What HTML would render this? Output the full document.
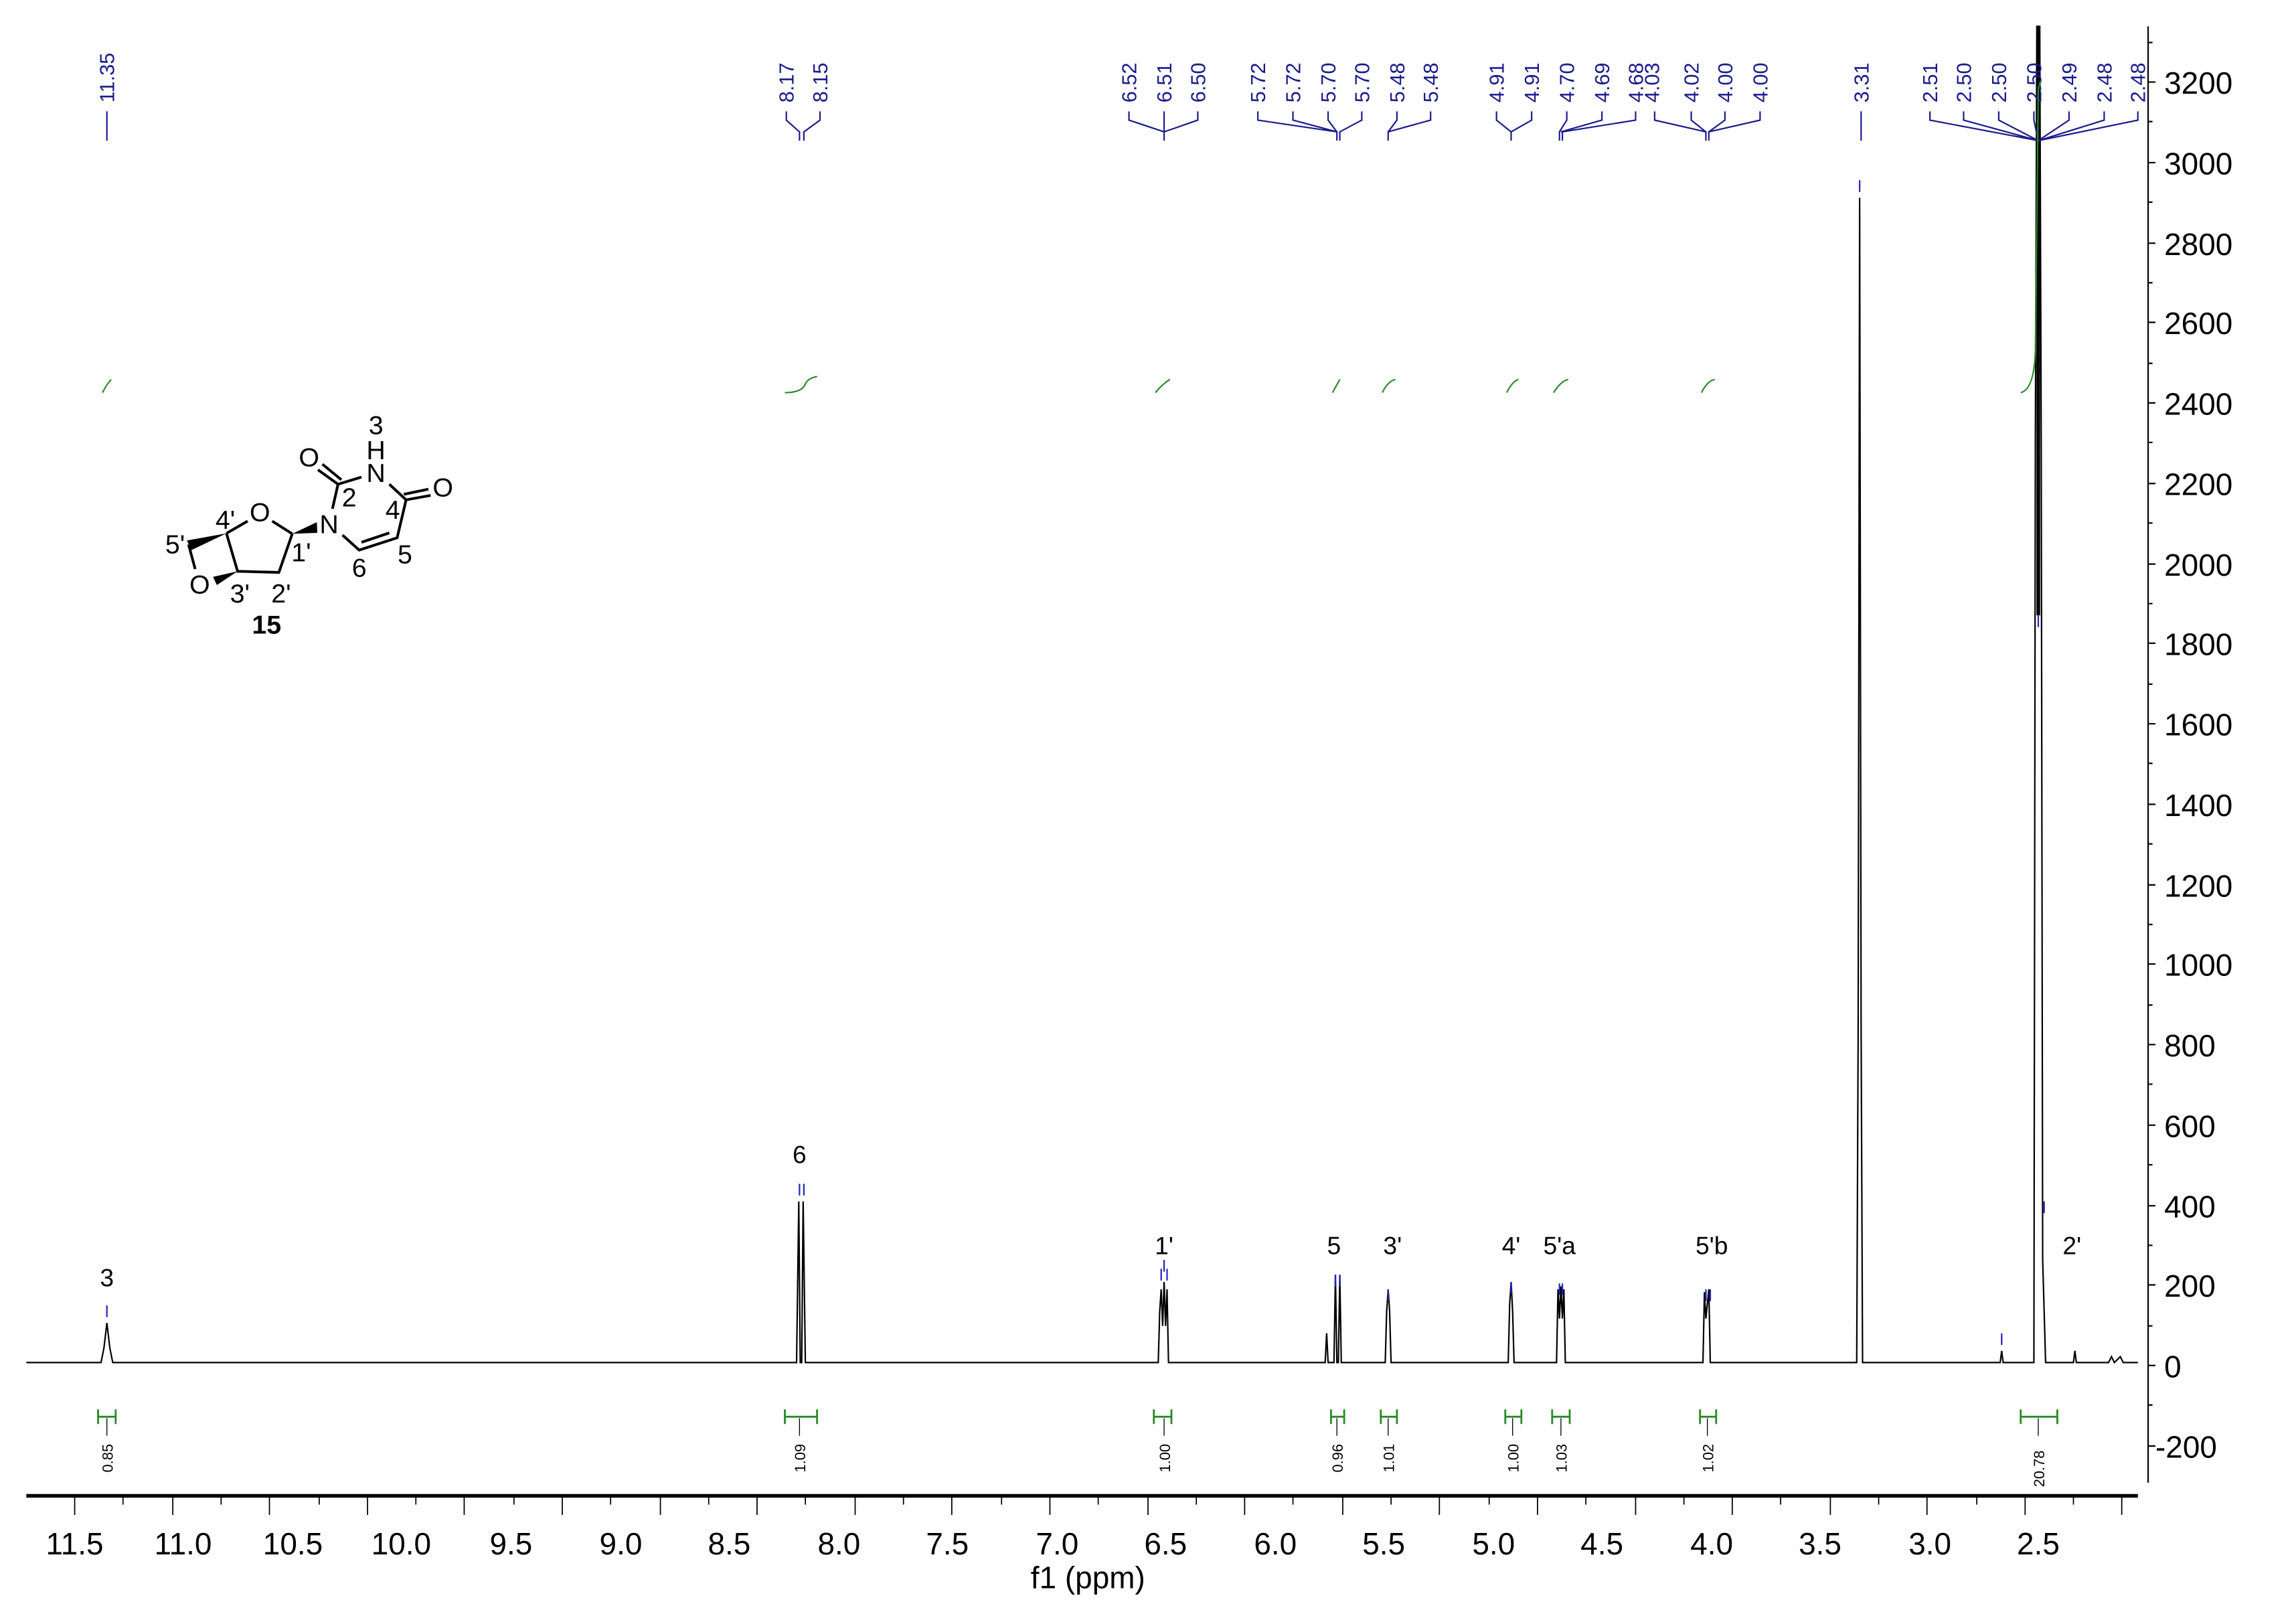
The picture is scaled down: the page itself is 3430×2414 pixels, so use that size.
<!DOCTYPE html>
<html><head><meta charset="utf-8"><style>
html,body{margin:0;padding:0;background:#fff;}
svg{display:block;}
text{font-family:"Liberation Sans","DejaVu Sans",sans-serif;}
</style></head><body>
<svg width="3430" height="2414" viewBox="0 0 1568 1103" preserveAspectRatio="none" xmlns="http://www.w3.org/2000/svg">
<rect width="1568" height="1103" fill="#fff"/>
<!-- x axis -->
<line x1="18" y1="1021" x2="1460" y2="1021" stroke="#000" stroke-width="2.5"/>
<g stroke="#000" stroke-width="0.8">
<path d="M51 1021v13M84 1021v6M118 1021v13M151 1021v6M184 1021v13M218 1021v6M251 1021v13M284 1021v6M317 1021v13M351 1021v6M384 1021v13M417 1021v6M451 1021v13M484 1021v6M517 1021v13M550 1021v6M584 1021v13M617 1021v6M650 1021v13M684 1021v6M717 1021v13M750 1021v6M784 1021v13M817 1021v6M850 1021v13M883 1021v6M917 1021v13M950 1021v6M983 1021v13M1017 1021v6M1050 1021v13M1083 1021v6M1117 1021v13M1150 1021v6M1183 1021v13M1216 1021v6M1250 1021v13M1283 1021v6M1316 1021v13M1350 1021v6M1383 1021v13M1416 1021v6M1449 1021v13"/>
</g>
<g font-size="21" text-anchor="middle" fill="#000">
<text x="51" y="1061">11.5</text><text x="125" y="1061">11.0</text><text x="200" y="1061">10.5</text><text x="274" y="1061">10.0</text><text x="349" y="1061">9.5</text><text x="424" y="1061">9.0</text><text x="498" y="1061">8.5</text><text x="573" y="1061">8.0</text><text x="647" y="1061">7.5</text><text x="722" y="1061">7.0</text><text x="796" y="1061">6.5</text><text x="871" y="1061">6.0</text><text x="945" y="1061">5.5</text><text x="1020" y="1061">5.0</text><text x="1094" y="1061">4.5</text><text x="1169" y="1061">4.0</text><text x="1243" y="1061">3.5</text><text x="1318" y="1061">3.0</text><text x="1392" y="1061">2.5</text>
<text x="743" y="1084">f1 (ppm)</text>
</g>
<!-- y axis -->
<line x1="1467" y1="18" x2="1467" y2="1012" stroke="#000" stroke-width="1"/>
<g stroke="#000" stroke-width="1">
<path d="M1467 56h5M1467 111h5M1467 166h5M1467 220h5M1467 275h5M1467 330h5M1467 385h5M1467 439h5M1467 494h5M1467 549h5M1467 604h5M1467 658h5M1467 713h5M1467 768h5M1467 823h5M1467 877h5M1467 932h5M1467 987h5"/>
<path d="M1467 29h3M1467 83h3M1467 138h3M1467 193h3M1467 248h3M1467 302h3M1467 357h3M1467 412h3M1467 467h3M1467 521h3M1467 576h3M1467 631h3M1467 686h3M1467 740h3M1467 795h3M1467 850h3M1467 905h3M1467 959h3"/>
</g>
<g font-size="21" fill="#000">
<text x="1478" y="64">3200</text><text x="1478" y="119">3000</text><text x="1478" y="174">2800</text><text x="1478" y="228">2600</text><text x="1478" y="283">2400</text><text x="1478" y="338">2200</text><text x="1478" y="393">2000</text><text x="1478" y="447">1800</text><text x="1478" y="502">1600</text><text x="1478" y="557">1400</text><text x="1478" y="612">1200</text><text x="1478" y="666">1000</text><text x="1478" y="721">800</text><text x="1478" y="776">600</text><text x="1478" y="831">400</text><text x="1478" y="885">200</text><text x="1478" y="940">0</text><text x="1472" y="995">-200</text>
</g>
<!-- spectrum -->
<path fill="none" stroke="#000" stroke-width="1" d="M18 930 L69 930 L71 920 L73 903 L75 920 L77 930 L544 930 L545.5 820 L546.5 930 L547.5 930 L548.5 820 L550 930 L791 930 L792 895 L793 880 L794 905 L795 875 L796 905 L797 880 L798 930 L905 930 L906 910 L907 930 L911 930 L912 870 L913 930 L914 930 L915 870 L916 930 L946 930 L947 895 L948 880 L949 895 L950 930 L1030 930 L1031 890 L1032 875 L1033 895 L1034 930 L1063 930 L1064 880 L1065 900 L1066 878 L1067 900 L1068 880 L1069 930 L1163 930 L1164 882 L1165 900 L1167 880 L1168 930 L1268 930 L1269 700 L1270 135 L1271 700 L1272 930 L1366 930 L1367 922 L1368 930 L1389 930 L1390 300 L1391 18 L1393 18 L1394 300 L1395 860 L1397 930 L1416 930 L1417 922 L1418 930 L1440 930 L1442 926 L1444 930 L1448 926 L1450 930 L1460 930"/>
<line x1="1392" y1="18" x2="1392" y2="420" stroke="#000" stroke-width="2.5"/>
<!-- peak labels -->
<g font-size="17" text-anchor="middle" fill="#000">
<text x="73" y="878">3</text><text x="546" y="794">6</text><text x="795" y="856">1'</text><text x="911" y="856">5</text><text x="951" y="856">3'</text><text x="1032" y="856">4'</text><text x="1065" y="856">5'a</text><text x="1169" y="856">5'b</text><text x="1415" y="856">2'</text>
</g>
<!-- peak markers -->
<g stroke="#2222bb" stroke-width="1">
<path d="M73 891v8M546 808v8M549 808v8M793 866v8M795 860v8M797 866v8M912 870v8M915 870v8M948 880v8M1032 875v8M1065 876v8M1067 876v8M1165 880v8M1168 880v8M1270 123v8M1367 910v8M1392 420v8M1396 820v8"/>
</g>
<!-- top labels -->
<g font-size="14" fill="#1a1a8c">
<g text-anchor="start">
<text transform="translate(78 70) rotate(-90)">11.35</text>
<text transform="translate(542 70) rotate(-90)">8.17</text>
<text transform="translate(565 70) rotate(-90)">8.15</text>
<text transform="translate(776 70) rotate(-90)">6.52</text>
<text transform="translate(800 70) rotate(-90)">6.51</text>
<text transform="translate(823 70) rotate(-90)">6.50</text>
<text transform="translate(864 70) rotate(-90)">5.72</text>
<text transform="translate(888 70) rotate(-90)">5.72</text>
<text transform="translate(912 70) rotate(-90)">5.70</text>
<text transform="translate(935 70) rotate(-90)">5.70</text>
<text transform="translate(959 70) rotate(-90)">5.48</text>
<text transform="translate(982 70) rotate(-90)">5.48</text>
<text transform="translate(1027 70) rotate(-90)">4.91</text>
<text transform="translate(1051 70) rotate(-90)">4.91</text>
<text transform="translate(1075 70) rotate(-90)">4.70</text>
<text transform="translate(1099 70) rotate(-90)">4.69</text>
<text transform="translate(1122 70) rotate(-90)">4.68</text>
<text transform="translate(1133 70) rotate(-90)">4.03</text>
<text transform="translate(1160 70) rotate(-90)">4.02</text>
<text transform="translate(1183 70) rotate(-90)">4.00</text>
<text transform="translate(1207 70) rotate(-90)">4.00</text>
<text transform="translate(1276 70) rotate(-90)">3.31</text>
<text transform="translate(1323 70) rotate(-90)">2.51</text>
<text transform="translate(1346 70) rotate(-90)">2.50</text>
<text transform="translate(1370 70) rotate(-90)">2.50</text>
<text transform="translate(1394 70) rotate(-90)">2.50</text>
<text transform="translate(1418 70) rotate(-90)">2.49</text>
<text transform="translate(1442 70) rotate(-90)">2.48</text>
<text transform="translate(1465 70) rotate(-90)">2.48</text>
</g>
</g>
<g stroke="#1a1a8c" stroke-width="1" fill="none">
<path d="M73 76v20"/>
<path d="M537 76v6L546 90v6M560 76v6L549 90v6"/>
<path d="M771 76v6L795 90v6M795 76v14M818 76v6L795 90"/>
<path d="M859 76v6L913 90v6M883 76v6L913 90M907 76v6L913 90M930 76v6L915 90v6M954 76v6L948 90v6M977 76v6L948 90"/>
<path d="M1022 76v6L1032 90v6M1046 76v6L1032 90M1070 76v6L1065 90v6M1094 76v6L1066 90M1117 76v6L1067 90v6M1130 76v6L1165 90v6M1155 76v6L1165 90M1178 76v6L1167 90v6M1202 76v6L1167 90"/>
<path d="M1271 76v20"/>
<path d="M1318 76v6L1392 96M1341 76v6L1392 96M1365 76v6L1392 96M1389 76v6L1392 96M1413 76v6L1392 96M1437 76v6L1392 96M1460 76v6L1392 96"/>
</g>
<!-- integral curves -->
<g stroke="#2a8a2a" stroke-width="1" fill="none">
<path d="M70 268 Q73 262 76 259"/>
<path d="M536 268 Q548 268 550 262 Q552 258 558 257"/>
<path d="M789 268 Q794 262 799 259"/>
<path d="M910 268 L915 259"/>
<path d="M944 268 Q948 260 953 259"/>
<path d="M1029 268 Q1033 260 1037 259"/>
<path d="M1061 268 Q1066 260 1071 259"/>
<path d="M1162 268 Q1166 260 1171 259"/>
<path d="M1380 268 Q1389 266 1390 240 L1392 60 L1394 55"/>
</g>
<!-- integral bars -->
<g stroke="#2a8a2a" stroke-width="1.3" fill="none">
<path d="M67 962v10M79 962v10M67 967h12"/>
<path d="M536 962v10M558 962v10M536 967h22"/>
<path d="M788 962v10M800 962v10M788 967h12"/>
<path d="M909 962v10M918 962v10M909 967h9"/>
<path d="M943 962v10M954 962v10M943 967h11"/>
<path d="M1028 962v10M1039 962v10M1028 967h11"/>
<path d="M1060 962v10M1072 962v10M1060 967h12"/>
<path d="M1161 962v10M1172 962v10M1161 967h11"/>
<path d="M1380 962v10M1405 962v10M1380 967h25"/>
</g>
<g stroke="#000" stroke-width="0.6">
<path d="M73 968v12M546 968v12M795 968v12M913 968v12M948 968v12M1033 968v12M1066 968v12M1166 968v12M1392 968v12"/>
</g>
<g font-size="10" fill="#000">
<text transform="translate(77 1005) rotate(-90)">0.85</text>
<text transform="translate(550 1005) rotate(-90)">1.09</text>
<text transform="translate(799 1005) rotate(-90)">1.00</text>
<text transform="translate(917 1005) rotate(-90)">0.96</text>
<text transform="translate(952 1005) rotate(-90)">1.01</text>
<text transform="translate(1037 1005) rotate(-90)">1.00</text>
<text transform="translate(1070 1005) rotate(-90)">1.03</text>
<text transform="translate(1170 1005) rotate(-90)">1.02</text>
<text transform="translate(1396 1015) rotate(-90)">20.78</text>
</g>
<!-- molecule -->
<g transform="translate(91.4 255.9) scale(0.1524 0.1523)">
<g stroke="#000" stroke-width="12" fill="none" stroke-linecap="butt">
<path d="M415 710L510 655M620 655L710 712M710 712L650 885L465 880L415 710M245 760L275 870"/>
<path d="M890 600L915 490L1020 458M1145 490L1220 560L1180 730L1010 785L935 718"/>
<path d="M915 490L825 425M930 470L845 400"/>
<path d="M1220 560L1330 540M1210 535L1320 512"/>
<path d="M1145 708L1020 750"/>
</g>
<g fill="#000">
<polygon points="710,712 820,660 822,708"/>
<polygon points="415,710 238,742 258,785"/>
<polygon points="465,880 355,905 372,942"/>
</g>
<g font-size="118" fill="#000" text-anchor="middle">
<text x="565" y="655">O</text>
<text x="875" y="710">N</text>
<text x="1085" y="480">N</text>
<text x="1085" y="378">H</text>
<text x="1085" y="265">3</text>
<text x="785" y="410">O</text>
<text x="1385" y="545">O</text>
<text x="295" y="980">O</text>
<text x="965" y="590">2</text>
<text x="1160" y="645">4</text>
<text x="410" y="690">4'</text>
<text x="185" y="800">5'</text>
<text x="750" y="835">1'</text>
<text x="1215" y="845">5</text>
<text x="1010" y="905">6</text>
<text x="475" y="1020">3'</text>
<text x="660" y="1020">2'</text>
<text x="595" y="1160" font-weight="bold">15</text>
</g>
</g>
</svg>
</body></html>
